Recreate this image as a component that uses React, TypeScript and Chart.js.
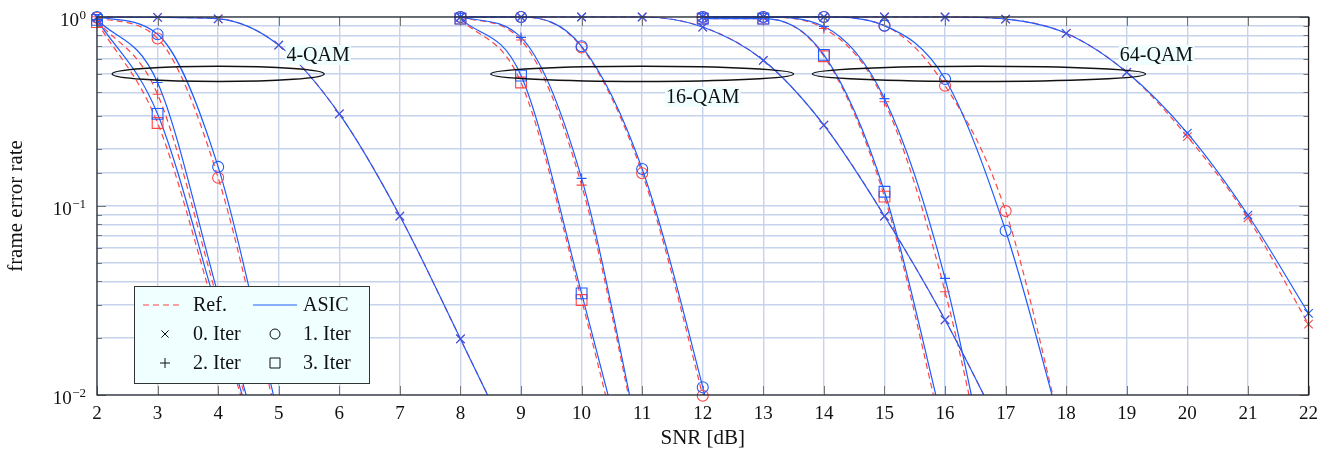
import { useEffect, useRef } from 'react';
import { Chart, registerables } from 'chart.js';

Chart.register(...registerables);

const FONT = '"Liberation Serif", "Times New Roman", serif';
const ASIC_COLOR = '#1f5cff';
const REF_COLOR = '#ff4545';
const GRID_COLOR = '#c6d3ec';

// ---------------- data ----------------
const snr4 = [2, 3, 4, 5, 6, 7, 8, 9];
const qam4_it0_ref = [1, 0.995, 0.978, 0.71, 0.307, 0.0885, 0.0198, 0.0043];
const qam4_it0_asic = [1, 0.995, 0.978, 0.71, 0.307, 0.0885, 0.0198, 0.0043];
const qam4_it1_ref = [0.99, 0.77, 0.141, 0.0069];
const qam4_it1_asic = [1, 0.81, 0.161, 0.0076];
const qam4_it2_ref = [0.96, 0.39, 0.031, 0.0023];
const qam4_it2_asic = [0.97, 0.45, 0.034, 0.0024];
const qam4_it3_ref = [0.94, 0.275, 0.0245, 0.0022];
const qam4_it3_asic = [0.965, 0.307, 0.027, 0.0022];

const snr16 = [8, 9, 10, 11, 12, 13, 14, 15, 16, 17];
const qam16_it0_ref = [1, 1, 1, 1, 0.885, 0.59, 0.268, 0.0885, 0.025, 0.0059];
const qam16_it0_asic = [1, 1, 1, 1, 0.885, 0.59, 0.268, 0.0885, 0.025, 0.0059];
const qam16_it1_ref = [1, 1, 0.69, 0.149, 0.0099, 0.0004];
const qam16_it1_asic = [1, 1, 0.7, 0.157, 0.011, 0.0005];
const qam16_it2_ref = [1, 0.755, 0.129, 0.0045];
const qam16_it2_asic = [1, 0.78, 0.14, 0.0048];
const qam16_it3_ref = [0.98, 0.45, 0.0318, 0.0016];
const qam16_it3_asic = [0.98, 0.49, 0.0345, 0.002];

const snr64 = [12, 13, 14, 15, 16, 17, 18, 19, 20, 21, 22];
const qam64_it0_ref = [1, 1, 1, 1, 1, 0.975, 0.82, 0.51, 0.233, 0.0865, 0.0237];
const qam64_it0_asic = [1, 1, 1, 1, 1, 0.975, 0.82, 0.51, 0.243, 0.0896, 0.027];
const qam64_it1_ref = [1, 1, 1, 0.9, 0.433, 0.094, 0.0051];
const qam64_it1_asic = [1, 1, 1, 0.9, 0.47, 0.074, 0.0053];
const qam64_it2_ref = [1, 1, 0.87, 0.356, 0.0352, 0.0012];
const qam64_it2_asic = [1, 1, 0.89, 0.37, 0.0414, 0.0013];
const qam64_it3_ref = [0.98, 0.98, 0.62, 0.112, 0.0055];
const qam64_it3_asic = [0.98, 0.98, 0.63, 0.119, 0.0063];

// number of measured points (with a marker) at the start of each curve
const marks4 = [7, 3, 2, 2];
const marks16 = [9, 5, 3, 3];
const marks64 = [11, 6, 5, 4];

const xTicks = [2, 3, 4, 5, 6, 7, 8, 9, 10, 11, 12, 13, 14, 15, 16, 17, 18, 19, 20, 21, 22];
const yTickExponents = [0, -1, -2];

const groupLabels = ['4-QAM', '16-QAM', '64-QAM'];
const iterLabels = ['0. Iter', '1. Iter', '2. Iter', '3. Iter'];
const variantLabels = ['Ref.', 'ASIC'];

// annotation placement (data coordinates)
const labelPos = [
  { x: 5.65, y: 0.63 },
  { x: 12.0, y: 0.377 },
  { x: 19.49, y: 0.63 },
];
const ellipsePos = [
  { x: 4.0, y: 0.5, rx: 1.75 },
  { x: 11.0, y: 0.5, rx: 2.5 },
  { x: 16.56, y: 0.5, rx: 2.75 },
];

const markerStyles = ['crossRot', 'circle', 'cross', 'rect'];
const markerRadius = [6, 5.5, 5, 7.6];

type Curve = { snr: number[]; iter: number; ref: number[]; asic: number[]; marks: number };

const curves: Curve[] = [
  { snr: snr4, iter: 0, ref: qam4_it0_ref, asic: qam4_it0_asic, marks: marks4[0] },
  { snr: snr4, iter: 1, ref: qam4_it1_ref, asic: qam4_it1_asic, marks: marks4[1] },
  { snr: snr4, iter: 2, ref: qam4_it2_ref, asic: qam4_it2_asic, marks: marks4[2] },
  { snr: snr4, iter: 3, ref: qam4_it3_ref, asic: qam4_it3_asic, marks: marks4[3] },
  { snr: snr16, iter: 0, ref: qam16_it0_ref, asic: qam16_it0_asic, marks: marks16[0] },
  { snr: snr16, iter: 1, ref: qam16_it1_ref, asic: qam16_it1_asic, marks: marks16[1] },
  { snr: snr16, iter: 2, ref: qam16_it2_ref, asic: qam16_it2_asic, marks: marks16[2] },
  { snr: snr16, iter: 3, ref: qam16_it3_ref, asic: qam16_it3_asic, marks: marks16[3] },
  { snr: snr64, iter: 0, ref: qam64_it0_ref, asic: qam64_it0_asic, marks: marks64[0] },
  { snr: snr64, iter: 1, ref: qam64_it1_ref, asic: qam64_it1_asic, marks: marks64[1] },
  { snr: snr64, iter: 2, ref: qam64_it2_ref, asic: qam64_it2_asic, marks: marks64[2] },
  { snr: snr64, iter: 3, ref: qam64_it3_ref, asic: qam64_it3_asic, marks: marks64[3] },
];

function buildDatasets() {
  const ds: any[] = [];
  curves.forEach((c) => {
    (['ref', 'asic'] as const).forEach((v) => {
      const vals = c[v];
      const color = v === 'ref' ? REF_COLOR : ASIC_COLOR;
      const pts = vals.map((y, i) => ({ x: c.snr[i], y }));
      ds.push({
        label: v,
        data: pts,
        borderColor: color,
        borderWidth: 1.2,
        borderDash: v === 'ref' ? [6, 4] : [],
        pointRadius: 0,
        fill: false,
        cubicInterpolationMode: 'monotone',
        clip: { left: 10, top: 10, right: 10, bottom: 0 },
        order: v === 'ref' ? 4 : 3,
      });
      ds.push({
        label: v + ' marks',
        data: pts.slice(0, c.marks),
        showLine: false,
        pointStyle: markerStyles[c.iter],
        pointRadius: markerRadius[c.iter],
        pointBorderColor: color,
        pointBackgroundColor: 'rgba(0,0,0,0)',
        pointBorderWidth: 1.1,
        clip: false,
        order: v === 'ref' ? 2 : 1,
      });
    });
  });
  return ds;
}

function drawMarker(ctx: CanvasRenderingContext2D, style: string, x: number, y: number) {
  ctx.beginPath();
  if (style === 'crossRot') {
    const s = 3.6;
    ctx.moveTo(x - s, y - s); ctx.lineTo(x + s, y + s);
    ctx.moveTo(x - s, y + s); ctx.lineTo(x + s, y - s);
  } else if (style === 'circle') {
    ctx.arc(x, y, 5, 0, Math.PI * 2);
  } else if (style === 'cross') {
    const s = 5;
    ctx.moveTo(x - s, y); ctx.lineTo(x + s, y);
    ctx.moveTo(x, y - s); ctx.lineTo(x, y + s);
  } else {
    ctx.rect(x - 5, y - 5, 10, 10);
  }
  ctx.stroke();
}

const decorPlugin = {
  id: 'decor',
  afterDatasetsDraw(chart: any) {
    const { ctx, chartArea: a, scales } = chart;
    const xs = scales.x;
    const ys = scales.y;
    ctx.save();
    // ellipses
    ctx.strokeStyle = '#111';
    ctx.lineWidth = 1.4;
    ellipsePos.forEach((e) => {
      const cx = xs.getPixelForValue(e.x);
      const cy = ys.getPixelForValue(e.y);
      const rx = xs.getPixelForValue(e.x + e.rx) - cx;
      ctx.beginPath();
      ctx.ellipse(cx, cy, rx, 7.6, 0, 0, Math.PI * 2);
      ctx.stroke();
    });
    // group labels
    ctx.font = `20px ${FONT}`;
    ctx.textAlign = 'center';
    ctx.textBaseline = 'middle';
    groupLabels.forEach((t, i) => {
      const px = xs.getPixelForValue(labelPos[i].x);
      const py = ys.getPixelForValue(labelPos[i].y);
      const w = ctx.measureText(t).width;
      ctx.fillStyle = '#effefe';
      ctx.fillRect(px - w / 2 - 1, py - 10, w + 2, 20);
      ctx.fillStyle = '#111';
      ctx.fillText(t, px, py + 1);
    });
    // tick marks
    ctx.strokeStyle = '#777';
    ctx.lineWidth = 1;
    xTicks.forEach((t) => {
      const px = Math.round(xs.getPixelForValue(t)) + 0.5;
      ctx.beginPath();
      ctx.moveTo(px, a.bottom); ctx.lineTo(px, a.bottom - 9);
      ctx.moveTo(px, a.top); ctx.lineTo(px, a.top + 9);
      ctx.stroke();
    });
    ys.ticks.forEach((t: any) => {
      const v = t.value;
      const major = Math.abs(Math.log10(v) - Math.round(Math.log10(v))) < 1e-6;
      const len = major ? 9 : 5;
      const py = Math.round(ys.getPixelForValue(v)) + 0.5;
      ctx.beginPath();
      ctx.moveTo(a.left, py); ctx.lineTo(a.left + len, py);
      ctx.moveTo(a.right, py); ctx.lineTo(a.right - len, py);
      ctx.stroke();
    });
    // frame
    ctx.strokeStyle = '#222';
    ctx.lineWidth = 1.2;
    ctx.strokeRect(a.left, a.top, a.right - a.left, a.bottom - a.top);
    ctx.restore();
  },
  afterDraw(chart: any) {
    const { ctx, scales } = chart;
    const ys = scales.y;
    ctx.save();
    // y tick labels with superscripts
    ctx.fillStyle = '#111';
    ctx.textBaseline = 'alphabetic';
    yTickExponents.forEach((e) => {
      const py = ys.getPixelForValue(Math.pow(10, e));
      const expText = e < 0 ? '\u2212' + Math.abs(e) : String(e);
      ctx.font = `13px ${FONT}`;
      const we = ctx.measureText(expText).width;
      const right = 86;
      ctx.textAlign = 'left';
      ctx.fillText(expText, right - we, py + 2);
      ctx.font = `19px ${FONT}`;
      ctx.textAlign = 'right';
      ctx.fillText('10', right - we - 0.5, py + 9);
    });
    // legend
    const lx = 134, ly = 286, lw = 235, lh = 97;
    ctx.fillStyle = '#f0ffff';
    ctx.fillRect(lx, ly, lw, lh);
    ctx.strokeStyle = '#333';
    ctx.lineWidth = 1;
    ctx.strokeRect(lx + 0.5, ly + 0.5, lw, lh);
    const rows = [305, 334, 363];
    ctx.font = `20px ${FONT}`;
    ctx.textAlign = 'left';
    ctx.textBaseline = 'middle';
    // row 1 : line styles
    ctx.lineWidth = 1.2;
    ctx.strokeStyle = REF_COLOR;
    ctx.setLineDash([6, 4]);
    ctx.beginPath(); ctx.moveTo(143, rows[0]); ctx.lineTo(183, rows[0]); ctx.stroke();
    ctx.setLineDash([]);
    ctx.strokeStyle = ASIC_COLOR;
    ctx.beginPath(); ctx.moveTo(253, rows[0]); ctx.lineTo(297, rows[0]); ctx.stroke();
    ctx.fillStyle = '#111';
    ctx.fillText(variantLabels[0], 193, rows[0] + 1);
    ctx.fillText(variantLabels[1], 303, rows[0] + 1);
    // rows 2,3 : markers
    ctx.strokeStyle = '#111';
    ctx.lineWidth = 1;
    iterLabels.forEach((t, i) => {
      const r = rows[1 + Math.floor(i / 2)];
      const col = i % 2;
      const mx = col === 0 ? 165 : 275;
      const tx = col === 0 ? 193 : 303;
      drawMarker(ctx, markerStyles[i], mx, r);
      ctx.fillText(t, tx, r + 1);
    });
    ctx.restore();
  },
};

export default function App() {
  const ref = useRef<HTMLCanvasElement | null>(null);
  useEffect(() => {
    document.body.style.margin = '0';
    const canvas = ref.current;
    if (!canvas) return;
    const chart = new Chart(canvas, {
      type: 'line',
      data: { datasets: buildDatasets() },
      options: {
        animation: false,
        responsive: false,
        devicePixelRatio: 1,
        events: [],
        layout: { padding: { top: 17, right: 16, left: 0, bottom: 0 } },
        plugins: { legend: { display: false }, tooltip: { enabled: false } },
        scales: {
          x: {
            type: 'linear',
            min: 2,
            max: 22,
            afterBuildTicks: (scale: any) => {
              scale.ticks = xTicks.map((v) => ({ value: v }));
            },
            afterFit: (scale: any) => {
              scale.height = 59;
            },
            ticks: {
              font: { family: FONT, size: 19 },
              color: '#111',
              padding: 8,
              maxRotation: 0,
              autoSkip: false,
            },
            grid: { color: GRID_COLOR, lineWidth: 1.4, drawTicks: false },
            border: { display: false },
            title: {
              display: true,
              text: 'SNR [dB]',
              font: { family: FONT, size: 21 },
              color: '#111',
              padding: { top: 0, bottom: 3 },
            },
          },
          y: {
            type: 'logarithmic',
            min: 0.01,
            max: 1,
            afterFit: (scale: any) => {
              scale.width = 97;
            },
            ticks: { display: false },
            grid: { color: GRID_COLOR, lineWidth: 1.4, drawTicks: false },
            border: { display: false },
            title: {
              display: true,
              text: 'frame error rate',
              font: { family: FONT, size: 21 },
              color: '#111',
              padding: { top: 4, bottom: 0 },
            },
          },
        },
      },
      plugins: [decorPlugin],
    } as any);
    return () => chart.destroy();
  }, []);
  return <canvas ref={ref} width={1326} height={454} style={{ display: 'block', width: 1326, height: 454 }} />;
}
